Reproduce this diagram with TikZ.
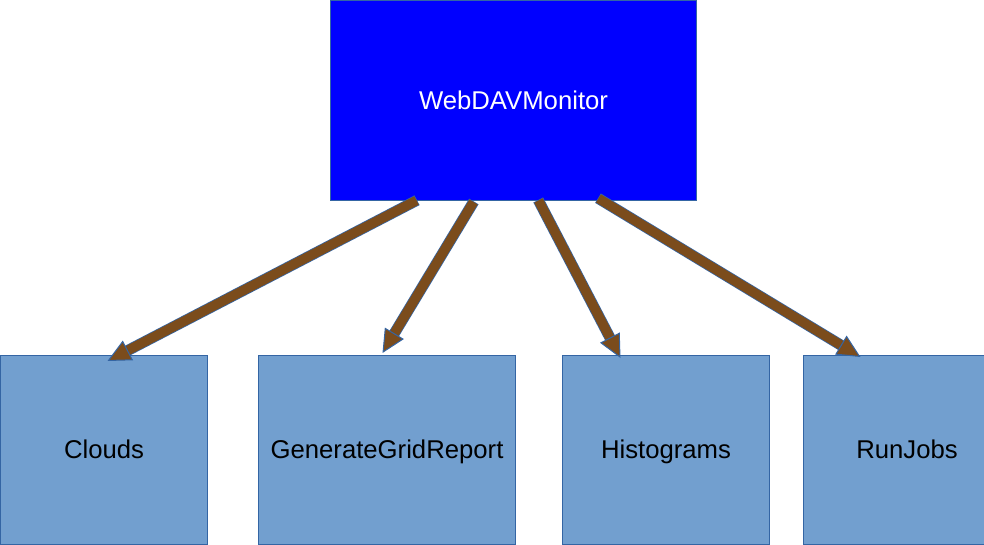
\documentclass[tikz,border=0pt]{standalone}
\usepackage{fontspec}
\setmainfont{Liberation Sans}
\usetikzlibrary{arrows.meta, calc}

\definecolor{rim}{HTML}{3465A4}
\definecolor{topblue}{HTML}{0000FF}
\definecolor{subblue}{HTML}{729FCF}
\definecolor{linkbrown}{RGB}{123,76,28}

\begin{document}
\begin{tikzpicture}[x=1pt, y=-1pt,% one unit per pixel, y downwards
  box/.style = {draw=rim, line width=1pt, fill=subblue,
                inner sep=0pt, outer sep=0pt,
                text height=24.6pt, text depth=6pt,
                minimum width=207pt, minimum height=189pt,
                font=\fontsize{25.7}{30}\selectfont},
  monitor/.style = {box, fill=topblue, text=white,
                    minimum width=366pt, minimum height=200pt},
  link/.style = {draw=linkbrown, line width=9.5pt,
                 -{Triangle[length=23pt, width=22pt, line width=1pt,
                            color=rim, fill=linkbrown]},
                 preaction={draw=rim, line width=11pt, arrows=-,
                            shorten >=15pt, shorten <=-0.6pt}}
                    ]
	\useasboundingbox (0,0) rectangle (984,545);

	% top module
	\node[monitor] (mon) at (513.5,100.5) {WebDAVMonitor};

	% sub modules
	\node[box] (clouds) at (104,449.5) {Clouds};
	\node[box, minimum width=257pt] (ggr) at (387,449.5) {GenerateGridReport};
	\node[box] (hist) at (666,449.5) {Histograms};
	\node[box] (jobs) at (907,449.5) {RunJobs};

	% links
	\draw[link] ($(mon.south west)+(86,0)$)    -- ($(clouds.north west)+(107,6)$);
	\draw[link] ($(mon.south west)+(143,1.5)$) -- ($(ggr.north west)+(124,-2)$);
	\draw[link] ($(mon.south west)+(208,0)$)   -- ($(hist.north west)+(58,3)$);
	\draw[link] ($(mon.south west)+(268,-2)$)  -- ($(jobs.north west)+(57,2)$);
\end{tikzpicture}
\end{document}
